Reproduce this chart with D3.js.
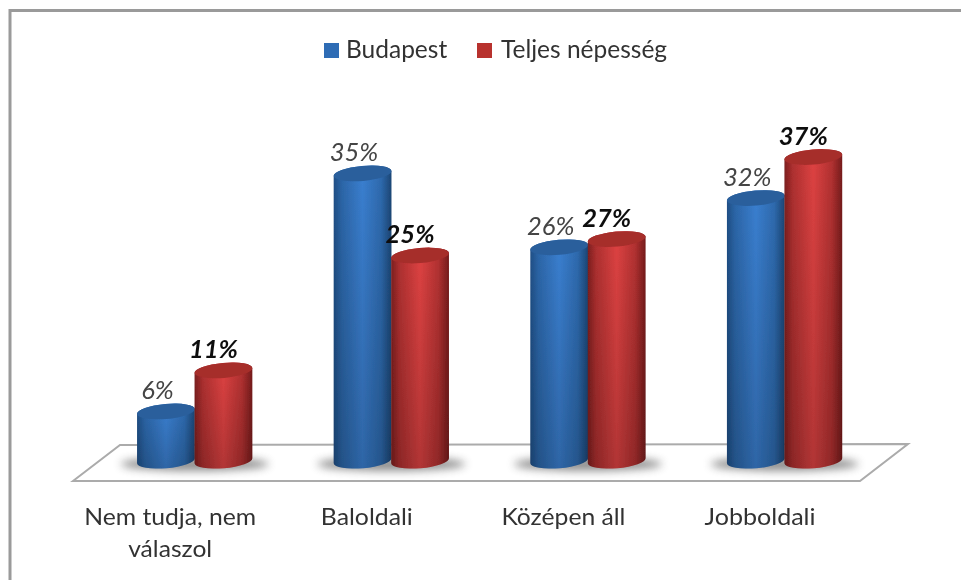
<!DOCTYPE html>
<html><head><meta charset="utf-8">
<style>html,body{margin:0;padding:0;background:#fff;overflow:hidden}svg{display:block}</style>
<script src="https://cdn.jsdelivr.net/npm/d3@7"></script></head>
<body><svg id="c" width="961" height="580"></svg>
<script>
const categories = ["Nem tudja, nem válaszol","Baloldali","Középen áll","Jobboldali"];
const seriesNames = ["Budapest","Teljes népesség"];
const budapest = [6,35,26,32];
const teljes = [11,25,27,37];

const svg = d3.select("#c");
const defs = svg.append("defs");
const font = "Lato, 'Open Sans', sans-serif";

function grad(id, stops){
  const g = defs.append("linearGradient").attr("id",id);
  stops.forEach(([o,c])=>g.append("stop").attr("offset",o).attr("stop-color",c));
}
grad("g0",[[0,"#1f4f86"],[.14,"#2c66a8"],[.5,"#3a7fd0"],[.82,"#2e6aae"],[1,"#1c4675"]]);
grad("g1",[[0,"#7d1f1f"],[.14,"#ae3030"],[.5,"#de4242"],[.82,"#b23131"],[1,"#761c1c"]]);
const lg = defs.append("linearGradient").attr("id","fade").attr("x1",0).attr("x2",0).attr("y1",0).attr("y2",1);
lg.append("stop").attr("offset",0).attr("stop-color","#000").attr("stop-opacity",0);
lg.append("stop").attr("offset",1).attr("stop-color","#000").attr("stop-opacity",.2);
defs.append("filter").attr("id","blur").attr("x","-30%").attr("y","-150%").attr("width","160%").attr("height","400%")
  .append("feGaussianBlur").attr("stdDeviation",4.5);
defs.append("filter").attr("id","soft").attr("filterUnits","userSpaceOnUse").attr("x",0).attr("y",0).attr("width",961).attr("height",580)
  .append("feGaussianBlur").attr("stdDeviation",.55);

const root = svg.append("g").attr("filter","url(#soft)");

// frame: only its top and left edges fall inside the picture
root.append("rect").attr("x",10).attr("y",10.5).attr("width",1000).attr("height",620)
  .attr("fill","#fff").attr("stroke","#9a9a9a").attr("stroke-width",3);

const x0 = d3.scaleBand().domain(categories).range([71.2,857.7]);
const x1 = d3.scaleBand().domain(seriesNames).range([66,181]);
const y = d3.scaleLinear().domain([0,37]).range([460.7,157]);

// floor
const floor = d3.line();
root.append("path").attr("d",floor([[73,481],[120,445],[908,444],[860,481]])+"Z")
  .attr("fill","#fff").attr("stroke","#ababab").attr("stroke-width",2);

const rows = categories.flatMap((c,i)=>[
  {c,s:0,name:seriesNames[0],v:budapest[i]},
  {c,s:1,name:seriesNames[1],v:teljes[i]}]);

const rx = 29, ry = 7.5, tilt = -5;
const ex = rx*Math.cos(tilt*Math.PI/180), ey = rx*Math.sin(tilt*Math.PI/180);

// shadows
root.selectAll(".shadow").data(categories).join("ellipse")
  .attr("cx",c=>x0(c)+x1.range()[0]+x1.bandwidth())
  .attr("cy",464).attr("rx",74).attr("ry",7)
  .attr("fill","#555").attr("opacity",.65).attr("filter","url(#blur)");

const bars = root.selectAll(".bar").data(rows).join("g")
  .attr("transform",d=>`translate(${x0(d.c)+x1(d.name)+x1.bandwidth()/2},0)`);
bars.each(function(d){
  const g = d3.select(this), t=y(d.v), b=y(0);
  const p = `M${-ex},${t-ey} L${-ex},${b-ey} A${rx},${ry} ${tilt} 0 0 ${ex},${b+ey} L${ex},${t+ey} A${rx},${ry} ${tilt} 0 0 ${-ex},${t-ey} Z`;
  g.append("path").attr("d",p).attr("fill",`url(#g${d.s})`);
  g.append("path").attr("d",p).attr("fill","url(#fade)");
  g.append("ellipse").attr("cx",0).attr("cy",t).attr("rx",rx).attr("ry",ry)
    .attr("transform",`rotate(${tilt} 0 ${t})`)
    .attr("fill",d.s?"#a62d2c":"#2a5f9c");
});

// value labels
root.selectAll(".val").data(rows).join("text")
  .attr("x",d=>x0(d.c)+x1(d.name)+x1.bandwidth()/2-(d.s?10:8.5))
  .attr("y",d=>y(d.v)-ry-4.5)
  .attr("text-anchor","middle")
  .attr("font-family",font).attr("font-size",25.5).attr("font-style","italic")
  .attr("font-weight",d=>d.s?700:400).attr("fill",d=>d.s?"#111":"#444")
  .text(d=>d.v+"%");

// category labels
const labelLines = [["Nem tudja, nem","válaszol"],["Baloldali"],["Középen áll"],["Jobboldali"]];
const labelFit = [[172,84],[92],[124],[111]];
root.selectAll(".cat").data(categories).join("text")
  .attr("font-family",font).attr("font-size",24).attr("fill","#333").attr("text-anchor","middle")
  .each(function(c,i){
    const t=d3.select(this);
    labelLines[i].forEach((l,j)=>t.append("tspan")
      .attr("x",x0(c)+x1.range()[0]+x1.bandwidth()-24.5).attr("y",525+j*32).text(l)
      .attr("textLength",labelFit[i][j]).attr("lengthAdjust","spacingAndGlyphs"));
  });

// legend
const legendX = [324,477];
const lgd = root.selectAll(".lg").data(seriesNames).join("g");
lgd.append("rect").attr("x",(d,i)=>legendX[i]).attr("y",43).attr("width",15).attr("height",15)
  .attr("fill",(d,i)=>i?"#b8302f":"#2f6cb5");
lgd.append("text").attr("x",(d,i)=>legendX[i]+(i?24:22)).attr("y",58)
  .attr("font-family",font).attr("font-size",24.5).attr("fill","#333").text(d=>d);
</script></body></html>
